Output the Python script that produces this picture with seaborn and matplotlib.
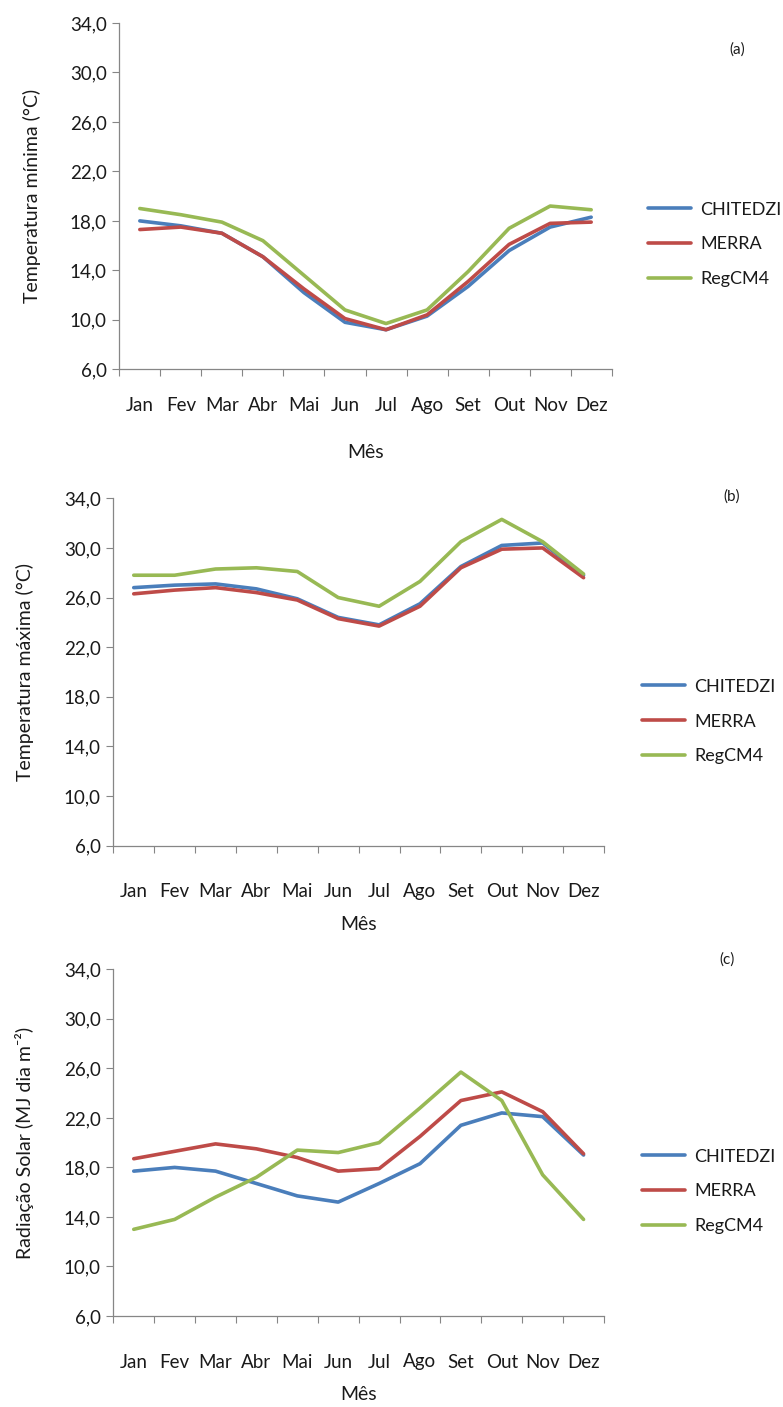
import numpy as np
import pandas as pd
import matplotlib
matplotlib.use("Agg")
import matplotlib.pyplot as plt
from matplotlib.ticker import FixedLocator, FuncFormatter, NullFormatter
import seaborn as sns

# Monthly climatology for Chitedze: station data vs. MERRA reanalysis vs. RegCM4
meses = ["Jan", "Fev", "Mar", "Abr", "Mai", "Jun", "Jul", "Ago", "Set", "Out", "Nov", "Dez"]
series = ["CHITEDZI", "MERRA", "RegCM4"]
cores = ["#4A7EBB", "#BE4B48", "#98B954"]

# (a) minimum temperature (°C)
tmin_chitedzi = [18.0, 17.6, 17.0, 15.1, 12.2, 9.8, 9.2, 10.3, 12.7, 15.6, 17.5, 18.3]
tmin_merra = [17.3, 17.5, 17.0, 15.1, 12.5, 10.1, 9.2, 10.4, 13.1, 16.1, 17.8, 17.9]
tmin_regcm4 = [19.0, 18.5, 17.9, 16.4, 13.6, 10.8, 9.7, 10.8, 13.9, 17.4, 19.2, 18.9]

# (b) maximum temperature (°C)
tmax_chitedzi = [26.8, 27.0, 27.1, 26.7, 25.9, 24.4, 23.8, 25.5, 28.5, 30.2, 30.4, 27.8]
tmax_merra = [26.3, 26.6, 26.8, 26.4, 25.8, 24.3, 23.7, 25.3, 28.4, 29.9, 30.0, 27.6]
tmax_regcm4 = [27.8, 27.8, 28.3, 28.4, 28.1, 26.0, 25.3, 27.3, 30.5, 32.3, 30.5, 27.9]

# (c) solar radiation (MJ dia m-2)
rad_chitedzi = [17.7, 18.0, 17.7, 16.7, 15.7, 15.2, 16.7, 18.3, 21.4, 22.4, 22.1, 19.0]
rad_merra = [18.7, 19.3, 19.9, 19.5, 18.8, 17.7, 17.9, 20.5, 23.4, 24.1, 22.5, 19.1]
rad_regcm4 = [13.0, 13.8, 15.6, 17.2, 19.4, 19.2, 20.0, 22.8, 25.7, 23.4, 17.4, 13.8]

yticks = [6, 10, 14, 18, 22, 26, 30, 34]

sns.set_theme(style="white")
plt.rcParams["font.family"] = ["Lato", "DejaVu Sans"]

W, H = 783, 1407
fig = plt.figure(figsize=(W / 100, H / 100), dpi=100)

eixo_cor = "#868686"
texto_cor = "#1a1a1a"
fs_tick = 13.5
fs_label = 14
fs_leg = 13

paineis = [
    dict(valores=[tmin_chitedzi, tmin_merra, tmin_regcm4],
         ylabel="Temperatura mínima (°C)", tag="(a)",
         px=(119.3, 611.7, 23.0, 369.3), tick_pad=20, xlab_dy=83,
         ylab_x=31.7, tag_xy=(737, 50), leg_xy=(648, 244.5)),
    dict(valores=[tmax_chitedzi, tmax_merra, tmax_regcm4],
         ylabel="Temperatura máxima (°C)", tag="(b)",
         px=(113.3, 604.0, 498.3, 845.7), tick_pad=27, xlab_dy=79,
         ylab_x=25.0, tag_xy=(732, 497), leg_xy=(642, 721.5)),
    dict(valores=[rad_chitedzi, rad_merra, rad_regcm4],
         ylabel="Radiação Solar (MJ dia m⁻²)", tag="(c)",
         px=(113.3, 604.0, 969.3, 1316.0), tick_pad=27, xlab_dy=79,
         ylab_x=25.0, tag_xy=(727, 960), leg_xy=(642, 1191.5)),
]

for p in paineis:
    x0, x1, y0, y1 = p["px"]
    ax = fig.add_axes([x0 / W, 1 - y1 / H, (x1 - x0) / W, (y1 - y0) / H])

    df = pd.DataFrame({
        "mes": np.tile(np.arange(len(meses)), len(series)),
        "valor": np.concatenate(p["valores"]),
        "serie": np.repeat(series, len(meses)),
    })
    sns.lineplot(data=df, x="mes", y="valor", hue="serie", hue_order=series,
                 palette=cores, linewidth=2.6, ax=ax, legend=True)

    handles, labels = ax.get_legend_handles_labels()
    ax.get_legend().remove()

    ax.set_xlim(-0.5, len(meses) - 0.5)
    ax.set_ylim(6, 34)
    ax.set_facecolor("white")

    # category boundaries carry the tick marks, centres carry the month names
    ax.xaxis.set_major_locator(FixedLocator(np.arange(-0.5, len(meses), 1.0)))
    ax.xaxis.set_major_formatter(NullFormatter())
    ax.xaxis.set_minor_locator(FixedLocator(np.arange(len(meses))))
    ax.set_xticklabels(meses, minor=True)
    ax.tick_params(axis="x", which="major", direction="out", length=5,
                   width=0.8, color=eixo_cor, bottom=True)
    ax.tick_params(axis="x", which="minor", length=0, pad=p["tick_pad"],
                   labelsize=fs_tick, labelcolor=texto_cor, bottom=True)

    ax.yaxis.set_major_locator(FixedLocator(yticks))
    ax.yaxis.set_major_formatter(FuncFormatter(lambda v, _: f"{v:.1f}".replace(".", ",")))
    ax.tick_params(axis="y", direction="out", length=5, width=0.8, color=eixo_cor,
                   pad=4, labelsize=fs_tick, labelcolor=texto_cor, left=True)

    for s in ["top", "right"]:
        ax.spines[s].set_visible(False)
    for s in ["left", "bottom"]:
        ax.spines[s].set_color(eixo_cor)
        ax.spines[s].set_linewidth(0.9)

    ax.set_xlabel("Mês", fontsize=fs_label, color=texto_cor, va="center")
    ax.xaxis.set_label_coords(0.5, -p["xlab_dy"] / (y1 - y0))
    ax.set_ylabel(p["ylabel"], fontsize=fs_label, color=texto_cor, va="center")
    ax.yaxis.set_label_coords((p["ylab_x"] - x0) / (x1 - x0), 0.5)

    tx, ty = p["tag_xy"]
    fig.text(tx / W, 1 - ty / H, p["tag"], ha="center", va="center",
             fontsize=11, color=texto_cor)

    lx, ly = p["leg_xy"]
    fig.legend(handles, labels, loc="center left", bbox_to_anchor=(lx / W, 1 - ly / H),
               frameon=False, borderpad=0, borderaxespad=0, handlelength=2.4,
               handletextpad=0.5, labelspacing=1.05, fontsize=fs_leg,
               labelcolor=texto_cor)

fig.savefig("out.png", dpi=100, facecolor="white")
